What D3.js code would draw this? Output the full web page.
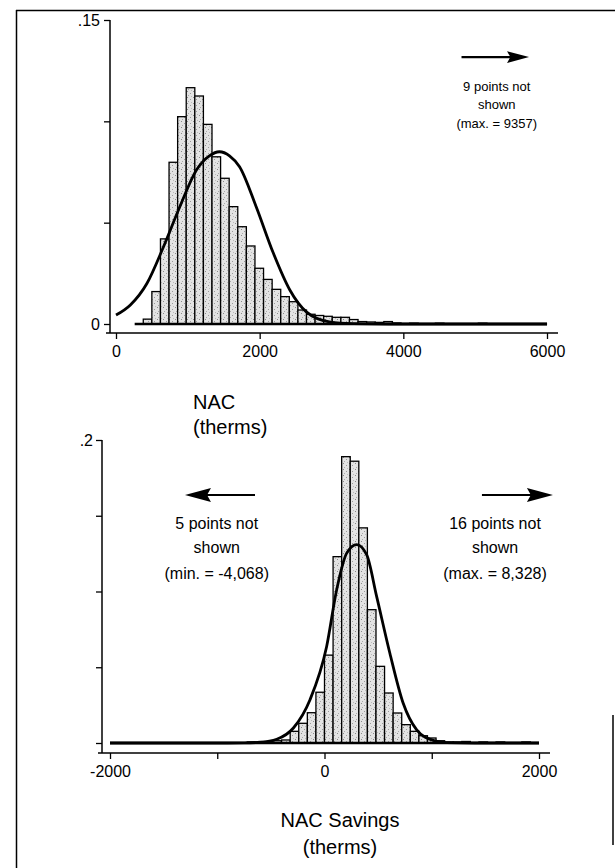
<!DOCTYPE html>
<html>
<head>
<meta charset="utf-8">
<script src="https://cdn.jsdelivr.net/npm/d3@7"></script>
<style>
  body { margin: 0; background: #fff; }
  svg { display: block; font-family: "Liberation Sans", Arial, sans-serif; }
</style>
</head>
<body>
<div id="chart"></div>
<script>
// ---- top panel: NAC (therms) ----
const nacBinStart = 260;
const nacBinWidth = 119.6;
const nacFraction = [
  0, 0.0024, 0.016, 0.042, 0.0798, 0.1023, 0.1166, 0.1125, 0.0985, 0.0825,
  0.0719, 0.0579, 0.048, 0.0385, 0.0275, 0.022, 0.0171, 0.0135, 0.011, 0.0069,
  0.0048, 0.0042, 0.0038, 0.0033, 0.0033, 0.0022, 0.0012, 0.001, 0.0008, 0.0012,
  0.0005, 0, 0.0004, 0, 0, 0.0004, 0, 0, 0, 0,
  0.0004, 0, 0, 0, 0, 0, 0, 0
];
const nacCurveX = [0, 200, 430, 660, 890, 1120, 1300, 1440, 1580, 1720, 1950, 2190, 2420, 2650, 2970, 3300, 3800, 6000];
const nacCurveY = [0.0044, 0.0094, 0.02, 0.038, 0.058, 0.076, 0.083, 0.085, 0.083, 0.0776, 0.058, 0.035, 0.0168, 0.006, 0.0011, 0.0002, 0, 0];
const nacXTicks = [0, 2000, 4000, 6000];
const nacXLabels = ["0", "2000", "4000", "6000"];
const nacYTicks = [0, 0.05, 0.1, 0.15];
const nacYLabels = ["0", "", "", ".15"];
const nacNote = ["9 points not", "shown", "(max. = 9357)"];
const nacTitle = ["NAC", "(therms)"];

// ---- bottom panel: NAC savings (therms) ----
const savBinStart = -2000;
const savBinWidth = 80;
const savFraction = [
  0, 0, 0, 0, 0, 0, 0, 0, 0, 0,
  0, 0, 0, 0, 0, 0, 0.0007, 0, 0.001, 0.0015,
  0.002, 0.0077, 0.013, 0.02, 0.0335, 0.058, 0.123, 0.189, 0.186, 0.142,
  0.088, 0.0506, 0.033, 0.0198, 0.0121, 0.0077, 0.0048, 0.0033, 0.0015, 0.0007,
  0.0007, 0.001, 0, 0.0007, 0, 0.0007, 0, 0, 0.0007, 0
];
const savCurveX = [-2000, -1000, -750, -600, -445, -290, -135, 20, 113, 207, 300, 393, 486, 609, 733, 858, 1012, 1137, 1400, 2000];
const savCurveY = [0, 0, 0.0001, 0.0005, 0.0025, 0.0099, 0.0286, 0.0637, 0.101, 0.1253, 0.131, 0.1243, 0.0968, 0.0594, 0.0264, 0.0088, 0.0017, 0.0003, 0, 0];
const savXTicks = [-2000, -1000, 0, 1000, 2000];
const savXLabels = ["-2000", "", "0", "", "2000"];
const savYTicks = [0, 0.05, 0.1, 0.15, 0.2];
const savYLabels = ["", "", "", "", ".2"];
const savNoteLeft = ["5 points not", "shown", "(min. = -4,068)"];
const savNoteRight = ["16 points not", "shown", "(max. = 8,328)"];
const savTitle = ["NAC Savings", "(therms)"];

const W = 615, H = 868;

const svg = d3.select("#chart").append("svg")
  .attr("width", W)
  .attr("height", H);

// stippled fill like the scanned bars
const pat = svg.append("defs").append("pattern")
  .attr("id", "stipple")
  .attr("width", 6).attr("height", 6)
  .attr("patternUnits", "userSpaceOnUse");
pat.append("rect").attr("width", 6).attr("height", 6).attr("fill", "#e3e3e3");
[[1, 1, "#8a8a8a"], [4, 3, "#9a9a9a"], [2, 5, "#aaaaaa"], [5, 0, "#bbbbbb"]].forEach(p => {
  pat.append("rect").attr("x", p[0]).attr("y", p[1]).attr("width", 1).attr("height", 1).attr("fill", p[2]);
});

// page frame (scanned border)
svg.append("line").attr("x1", 16.5).attr("y1", 10).attr("x2", 16.5).attr("y2", H).attr("stroke", "#000").attr("stroke-width", 1.5);
svg.append("line").attr("x1", 16).attr("y1", 10.5).attr("x2", W).attr("y2", 10.5).attr("stroke", "#000").attr("stroke-width", 1.5);
svg.append("line").attr("x1", 613).attr("y1", 715).attr("x2", 613).attr("y2", 845).attr("stroke", "#000").attr("stroke-width", 1.5);

function drawPanel(p) {
  const g = svg.append("g");
  const x = d3.scaleLinear().domain(p.xDomain).range(p.xRange);
  const y = d3.scaleLinear().domain(p.yDomain).range(p.yRange);

  // axis lines
  g.append("line")
    .attr("x1", p.yAxisX).attr("x2", p.yAxisX)
    .attr("y1", y(p.yDomain[1])).attr("y2", p.xAxisY)
    .attr("stroke", "#000").attr("stroke-width", 1.5);
  g.append("line")
    .attr("x1", p.yAxisX - 4).attr("x2", p.xRange[1] + 11)
    .attr("y1", p.xAxisY).attr("y2", p.xAxisY)
    .attr("stroke", "#000").attr("stroke-width", 1.5);

  const yAxis = d3.axisLeft(y)
    .tickValues(p.yTicks)
    .tickFormat((d, i) => p.yLabels[i])
    .tickSize(6).tickPadding(p.yPad);
  const ya = g.append("g").attr("transform", `translate(${p.yAxisX},0)`).call(yAxis);

  const xAxis = d3.axisBottom(x)
    .tickValues(p.xTicks)
    .tickFormat((d, i) => p.xLabels[i])
    .tickSize(6).tickPadding(7);
  const xa = g.append("g").attr("transform", `translate(0,${p.xAxisY})`).call(xAxis);

  [ya, xa].forEach(a => {
    a.select(".domain").remove();
    a.selectAll(".tick line").attr("stroke", "#000").attr("stroke-width", 1.3);
    a.selectAll(".tick text").attr("fill", "#000").style("font-size", "16px")
      .style("font-family", '"Liberation Sans", Arial, sans-serif');
  });

  // histogram bars
  const bins = p.fraction.map((v, i) => ({
    x0: p.binStart + i * p.binWidth,
    x1: p.binStart + (i + 1) * p.binWidth,
    v: v
  }));
  g.selectAll("rect.bar")
    .data(bins.filter(d => d.v > 0))
    .join("rect")
    .attr("class", "bar")
    .attr("x", d => x(d.x0))
    .attr("width", d => x(d.x1) - x(d.x0))
    .attr("y", d => y(d.v))
    .attr("height", d => y(0) - y(d.v))
    .attr("fill", "url(#stipple)")
    .attr("stroke", "#000")
    .attr("stroke-width", 1.3);

  // empty bins drawn as a baseline
  g.append("line")
    .attr("x1", x(bins[0].x0)).attr("x2", x(bins[bins.length - 1].x1))
    .attr("y1", y(0)).attr("y2", y(0))
    .attr("stroke", "#000").attr("stroke-width", 2.5);

  // fitted normal curve
  const line = d3.line()
    .x(d => x(d[0]))
    .y(d => y(d[1]))
    .curve(d3.curveMonotoneX);
  g.append("path")
    .datum(p.curveX.map((cx, i) => [cx, p.curveY[i]]))
    .attr("d", line)
    .attr("fill", "none")
    .attr("stroke", "#000")
    .attr("stroke-width", 2.8);

  // "points not shown" notes
  p.notes.forEach(n => {
    const ay = y(n.arrowY);
    const xa0 = x(n.arrowFrom), xa1 = x(n.arrowTo);
    const dir = Math.sign(xa1 - xa0);
    const headL = n.head, headH = n.head * 0.27;
    g.append("line")
      .attr("x1", xa0).attr("x2", xa1 - dir * headL * 0.8)
      .attr("y1", ay).attr("y2", ay)
      .attr("stroke", "#000").attr("stroke-width", 2.2);
    g.append("path")
      .attr("d", `M${xa1},${ay} L${xa1 - dir * headL},${ay - headH} L${xa1 - dir * headL * 0.85},${ay} L${xa1 - dir * headL},${ay + headH} Z`)
      .attr("fill", "#000");
    n.lines.forEach((t, i) => {
      g.append("text")
        .attr("x", x(n.textX))
        .attr("y", y(n.textY[i]))
        .attr("text-anchor", "middle")
        .style("font-size", n.size + "px")
        .text(t);
    });
  });

  // axis title
  p.title.forEach((t, i) => {
    g.append("text")
      .attr("x", p.titleX)
      .attr("y", p.titleY[i])
      .attr("text-anchor", p.titleAnchor)
      .style("font-size", "20px")
      .text(t);
  });
}

drawPanel({
  xDomain: [0, 6000], xRange: [116, 547],
  yDomain: [0, 0.15], yRange: [324, 20],
  yAxisX: 110, xAxisY: 333, yPad: 4,
  xTicks: nacXTicks, xLabels: nacXLabels,
  yTicks: nacYTicks, yLabels: nacYLabels,
  binStart: nacBinStart, binWidth: nacBinWidth, fraction: nacFraction,
  curveX: nacCurveX, curveY: nacCurveY,
  notes: [{
    arrowFrom: 4810, arrowTo: 5750, arrowY: 0.1317, head: 22,
    textX: 5300, textY: [0.1152, 0.1063, 0.0969], size: 13, lines: nacNote
  }],
  title: nacTitle, titleX: 193, titleY: [409, 434], titleAnchor: "start"
});

drawPanel({
  xDomain: [-2000, 2000], xRange: [110, 539],
  yDomain: [0, 0.2], yRange: [743, 440],
  yAxisX: 102, xAxisY: 753, yPad: 3,
  xTicks: savXTicks, xLabels: savXLabels,
  yTicks: savYTicks, yLabels: savYLabels,
  binStart: savBinStart, binWidth: savBinWidth, fraction: savFraction,
  curveX: savCurveX, curveY: savCurveY,
  notes: [
    { arrowFrom: -648, arrowTo: -1301, arrowY: 0.1637, head: 26,
      textX: -1005, textY: [0.1413, 0.1254, 0.1083], size: 16, lines: savNoteLeft },
    { arrowFrom: 1468, arrowTo: 2130, arrowY: 0.1637, head: 26,
      textX: 1590, textY: [0.1413, 0.1254, 0.1083], size: 16, lines: savNoteRight }
  ],
  title: savTitle, titleX: 340, titleY: [827, 854], titleAnchor: "middle"
});
</script>
</body>
</html>
